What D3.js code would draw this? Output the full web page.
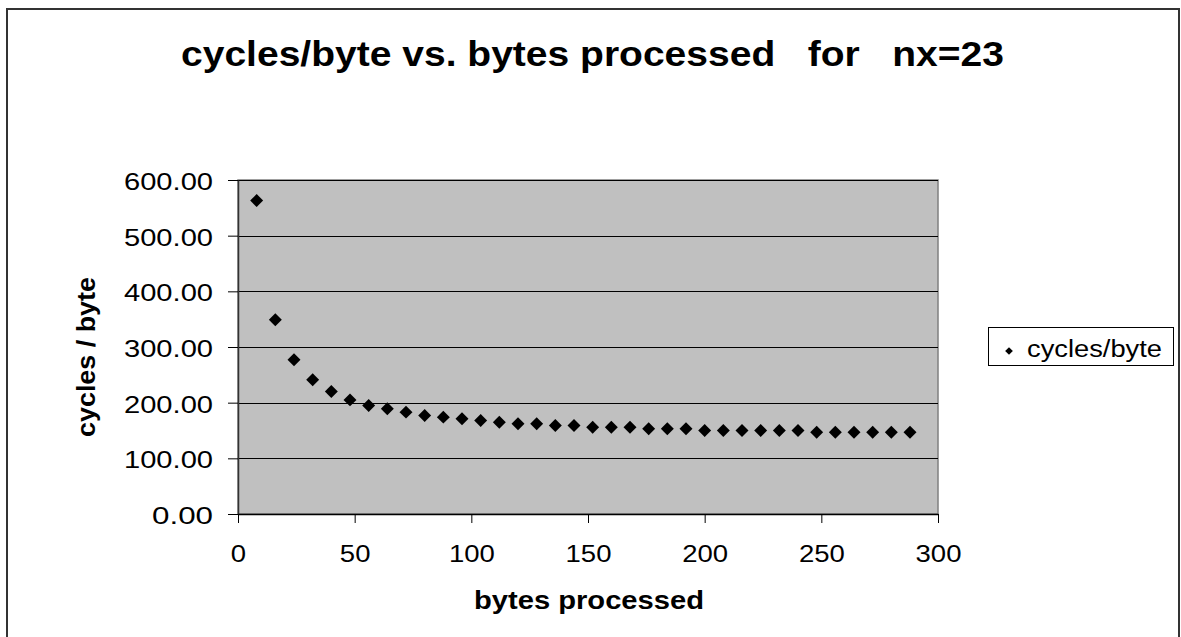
<!DOCTYPE html>
<html>
<head>
<meta charset="utf-8">
<script src="https://cdn.jsdelivr.net/npm/d3@7/dist/d3.min.js"></script>
<style>
html,body{margin:0;padding:0;background:#fff;}
svg{display:block;}
text{font-family:"Liberation Sans", Arial, sans-serif;}
</style>
</head>
<body>
<svg id="chart" width="1181" height="637"></svg>
<script>
const titleText = "cycles/byte vs. bytes processed\u00a0\u00a0\u00a0for\u00a0\u00a0\u00a0nx=23";
const xLabel = "bytes processed";
const yLabel = "cycles / byte";
const seriesName = "cycles/byte";
const bytesProcessed = [8,16,24,32,40,48,56,64,72,80,88,96,104,112,120,128,136,144,152,160,168,176,184,192,200,208,216,224,232,240,248,256,264,272,280,288];
const cyclesPerByte = [563,349,277,241,220,205,195,189,183,177,174,171,168,165,162,162,159,159,156,156,156,153,153,153,150,150,150,150,150,150,147,147,147,147,147,147];
const xTicks = [0,50,100,150,200,250,300];
const yTicks = [0,100,200,300,400,500,600];

const svg = d3.select("#chart");
const plot = {left:238, right:938, top:180, bottom:514};

// outer chart border
svg.append("rect").attr("x",7).attr("y",9).attr("width",1172).attr("height",640)
  .attr("fill","#fff").attr("stroke","#333").attr("stroke-width",2);

const x = d3.scaleLinear().domain([0,300]).range([plot.left, plot.right]);
const y = d3.scaleLinear().domain([0,600]).range([plot.bottom, plot.top]);

// plot area
svg.append("rect").attr("x",plot.left).attr("y",plot.top)
  .attr("width",plot.right-plot.left).attr("height",plot.bottom-plot.top)
  .attr("fill","#c0c0c0").attr("stroke","#808080").attr("stroke-width",1.5);

// gridlines
svg.append("g").selectAll("line").data(yTicks.filter(d=>d>0)).join("line")
  .attr("x1",plot.left).attr("x2",plot.right)
  .attr("y1",d=>Math.round(y(d))+0.5).attr("y2",d=>Math.round(y(d))+0.5)
  .attr("stroke","#000").attr("stroke-width",1);

// y axis
const yAxis = d3.axisLeft(y).tickValues(yTicks).tickSize(10).tickSizeOuter(0).tickPadding(15)
  .tickFormat(d3.format(".2f"));
const gy = svg.append("g").attr("transform",`translate(${plot.left},0)`).call(yAxis);
gy.select(".domain").attr("stroke","#333").attr("stroke-width",1.5);
gy.selectAll(".tick line").attr("stroke","#000");
gy.selectAll(".tick text").attr("font-size",24).attr("fill","#000")
  .attr("font-family","Liberation Sans, Arial, sans-serif")
  .attr("dy","0.4em")
  .attr("lengthAdjust","spacingAndGlyphs")
  .each(function(d){ d3.select(this).attr("textLength", d===0 ? 61 : 89); });

// x axis
const xAxis = d3.axisBottom(x).tickValues(xTicks).tickSize(9).tickSizeOuter(0).tickPadding(25)
  .tickFormat(d3.format("d"));
const gx = svg.append("g").attr("transform",`translate(0,${plot.bottom})`).call(xAxis);
gx.select(".domain").attr("stroke","#000").attr("stroke-width",1.5);
gx.selectAll(".tick line").attr("stroke","#000");
gx.selectAll(".tick text").attr("font-size",24).attr("fill","#000")
  .attr("font-family","Liberation Sans, Arial, sans-serif")
  .attr("dy","0.6em")
  .each(function(d){ const n=String(d).length; d3.select(this).attr("textLength", n*15.3).attr("lengthAdjust","spacingAndGlyphs"); });

// points
const diamond = d3.symbol().type(d3.symbolSquare).size(84);
svg.append("g").selectAll("path").data(bytesProcessed.map((b,i)=>({b, c:cyclesPerByte[i]}))).join("path")
  .attr("d",diamond)
  .attr("transform",d=>`translate(${x(d.b)},${y(d.c)}) rotate(45)`)
  .attr("fill","#000");

// title
svg.append("text").attr("x",592.5).attr("y",66).attr("text-anchor","middle")
  .attr("font-size",35).attr("font-weight","bold").attr("fill","#000")
  .attr("textLength",823).attr("lengthAdjust","spacingAndGlyphs")
  .text(titleText);

// x label
svg.append("text").attr("x",589).attr("y",609).attr("text-anchor","middle")
  .attr("font-size",25).attr("font-weight","bold").attr("fill","#000")
  .attr("textLength",230).attr("lengthAdjust","spacingAndGlyphs")
  .text(xLabel);

// y label
svg.append("text").attr("transform","translate(95,357) rotate(-90)").attr("text-anchor","middle")
  .attr("font-size",25).attr("font-weight","bold").attr("fill","#000")
  .attr("textLength",160).attr("lengthAdjust","spacingAndGlyphs")
  .text(yLabel);

// legend
const lg = svg.append("g");
lg.append("rect").attr("x",988.5).attr("y",327.5).attr("width",185).attr("height",38)
  .attr("fill","#fff").attr("stroke","#000").attr("stroke-width",1);
lg.append("path").attr("d",d3.symbol().type(d3.symbolSquare).size(30)())
  .attr("transform","translate(1009,351) rotate(45)").attr("fill","#000");
lg.append("text").attr("x",1027).attr("y",357).attr("font-size",23).attr("fill","#000")
  .attr("textLength",135).attr("lengthAdjust","spacingAndGlyphs")
  .text(seriesName);
</script>
</body>
</html>
